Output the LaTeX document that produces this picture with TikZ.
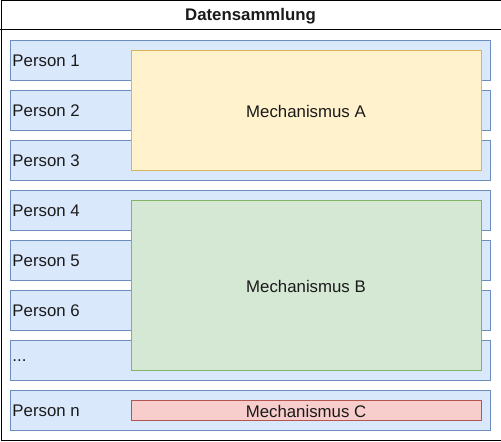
\documentclass[tikz,border=0pt]{standalone}
\usepackage{fontspec}
\setmainfont{Liberation Sans}
\definecolor{bfill}{HTML}{DAE8FC}\definecolor{bline}{HTML}{6C8EBF}
\definecolor{yfill}{HTML}{FFF2CC}\definecolor{yline}{HTML}{D6B656}
\definecolor{gfill}{HTML}{D5E8D4}\definecolor{gline}{HTML}{82B366}
\definecolor{rfill}{HTML}{F8CECC}\definecolor{rline}{HTML}{B85450}
\definecolor{txt}{HTML}{1A1A1A}
\newcommand\threedots{...}
\begin{document}
\begin{tikzpicture}[x=0.75pt,y=-0.75pt,line width=0.75pt,
  rowbox/.style={draw=bline,fill=bfill},
  mech/.style={draw=#1line,fill=#1fill},
  lbl/.style={font=\fontsize{12.6}{15}\selectfont,text=txt,inner sep=0pt}]
\useasboundingbox (0,0) rectangle (501,442);
\fill[white] (0,0) rectangle (501,442);
\node[draw=black,minimum width=500*0.75pt,minimum height=440*0.75pt,inner sep=0pt,anchor=north west] (outer) at (0.5,0.5) {};
\coordinate (dl) at (0.5,30);
\coordinate (dr) at (500.5,30);
\draw (dl) -- (dr);
\node[lbl,font=\fontsize{12.6}{15}\selectfont\bfseries] (title) at (250.5,16.5) {Datensammlung};
\foreach \i/\t/\y in {1/Person 1/40,2/Person 2/90,3/Person 3/140,4/Person 4/190,5/Person 5/240,6/Person 6/290,7/\threedots/340,8/Person n/390}{
  \draw[rowbox] (10.5,\y+0.5) rectangle (490.5,\y+40.5);
  \node[lbl,anchor=west] (p\i) at (12,\y+20.5) {\t};
}
\node[mech=y,minimum width=350*0.75pt,minimum height=120*0.75pt,anchor=north west,lbl] (A) at (130.5,50.5) {Mechanismus A};
\node[mech=g,minimum width=350*0.75pt,minimum height=170*0.75pt,anchor=north west,lbl] (B) at (130.5,200.5) {Mechanismus B};
\node[mech=r,minimum width=350*0.75pt,minimum height=20*0.75pt,anchor=north west,lbl] (C) at (130.5,400.5) {Mechanismus C};
\end{tikzpicture}
\end{document}
